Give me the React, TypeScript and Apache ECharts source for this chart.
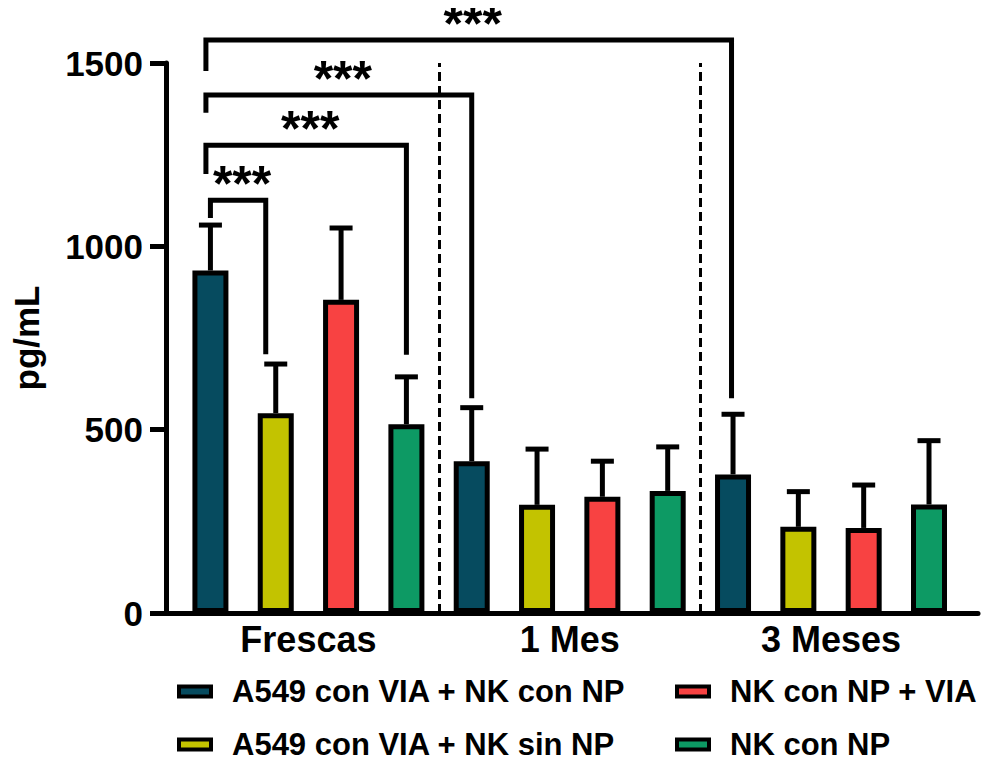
import React, { useEffect, useRef } from "react";
import * as echarts from "echarts";

const groups = ["Frescas", "1 Mes", "3 Meses"];
const seriesNames = [
  "A549 con VIA + NK con NP",
  "A549 con VIA + NK sin NP",
  "NK con NP + VIA",
  "NK con NP",
];
const colors = ["#064b5f", "#c3c300", "#f84242", "#0d9a64"];

// mean values per group (Frescas, 1 Mes, 3 Meses)
const tealMeans = [934, 414, 378];
const yellowMeans = [545, 295, 235];
const redMeans = [854, 317, 232];
const greenMeans = [515, 333, 296];
// upper error (SD) per group
const tealSD = [124, 146, 164];
const yellowSD = [134, 152, 96];
const redSD = [196, 97, 117];
const greenSD = [129, 120, 174];

const yTicks = [0, 500, 1000, 1500];

// significance brackets: bar index from/to (group*4 + series), bracket height, leg ends
const bracketFrom = [0, 0, 0, 0];
const bracketTo = [8, 4, 3, 1];
const bracketHeight = [1563, 1413, 1276, 1126];
const bracketLeftEnd = [1478, 1364, 1197, 1077];
const bracketRightEnd = [586, 586, 704, 706];
const bracketLabel = ["***", "***", "***", "***"];

// pixel offsets of bracket legs (style only)
const legLeftOffset = [-4.5, -4.5, -4.5, 0];
const legRightOffset = [-1.5, 0, 0, -10];

// legend placement (style only): [left, top, fontSize]
const legendPos = [
  [172, 671, 31],
  [172, 724, 31],
  [670, 671, 31],
  [670, 724, 31],
];

const FONT = '"Liberation Sans", Arial, Helvetica, sans-serif';

export default function App() {
  const ref = useRef<HTMLDivElement>(null);
  useEffect(() => {
    if (!ref.current) return;
    const chart = echarts.init(ref.current, undefined, { renderer: "svg" });
    const means = [tealMeans, yellowMeans, redMeans, greenMeans];
    const sds = [tealSD, yellowSD, redSD, greenSD];

    const barSeries: any[] = means.map((m, s) => ({
      name: seriesNames[s],
      type: "bar",
      barWidth: 36,
      barGap: "-100%",
      itemStyle: { color: colors[s], borderColor: "#000", borderWidth: 5 },
      data: m.map((v, g) => [g * 4 + s, v]),
      z: 2,
      ...(s === 0
        ? {
            markLine: {
              silent: true,
              symbol: "none",
              label: { show: false },
              lineStyle: { type: [9, 5], color: "#000", width: 3 },
              data: [{ xAxis: 3.5 }, { xAxis: 7.5 }],
            },
          }
        : {}),
    }));

    const errData: number[][] = [];
    means.forEach((m, s) =>
      m.forEach((v, g) => errData.push([g * 4 + s, v, v + sds[s][g]]))
    );

    const bracketData = bracketFrom.map((f, i) => [
      f,
      bracketTo[i],
      bracketHeight[i],
      bracketLeftEnd[i],
      bracketRightEnd[i],
      i,
    ]);

    const legends = seriesNames.map((n, i) => ({
      data: [n],
      orient: "horizontal",
      left: legendPos[i][0],
      top: legendPos[i][1],
      icon: "rect",
      itemWidth: 32,
      itemHeight: 10,
      itemStyle: { borderColor: "#000", borderWidth: 4 },
      textStyle: {
        color: "#000",
        fontSize: legendPos[i][2],
        fontWeight: "bold",
        fontFamily: FONT,
        padding: [0, 0, 0, 16],
      },
    }));

    const option: any = {
      animation: false,
      backgroundColor: "#fff",
      grid: { left: 166, right: 12, top: 63, bottom: 150 },
      xAxis: {
        type: "value",
        min: -0.68,
        max: 11.75,
        axisLine: { show: true, onZero: false, lineStyle: { color: "#000", width: 5 } },
        axisTick: { show: false },
        splitLine: { show: false },
        axisLabel: {
          customValues: [1.5, 5.5, 9.5],
          formatter: (v: number) => groups[Math.round((v - 1.5) / 4)] ?? "",
          color: "#000",
          fontSize: 36,
          fontWeight: "bold",
          fontFamily: FONT,
          margin: 8,
        },
      },
      yAxis: {
        type: "value",
        min: 0,
        max: 1500,
        interval: 500,
        name: "pg/mL",
        nameLocation: "middle",
        nameGap: 122,
        nameTextStyle: {
          color: "#000",
          fontSize: 35,
          fontWeight: "bold",
          fontFamily: FONT,
        },
        axisLine: { show: true, onZero: false, lineStyle: { color: "#000", width: 5 } },
        axisTick: {
          show: true,
          inside: false,
          length: 16,
          lineStyle: { color: "#000", width: 5 },
        },
        splitLine: { show: false },
        axisLabel: {
          color: "#000",
          fontSize: 35,
          fontWeight: "bold",
          fontFamily: FONT,
          margin: 23,
          formatter: (v: number) => (yTicks.includes(v) ? String(v) : ""),
        },
      },
      legend: legends,
      series: [
        ...barSeries,
        {
          type: "custom",
          name: "err",
          z: 3,
          clip: false,
          data: errData,
          renderItem: (params: any, api: any) => {
            const x = api.value(0);
            const p0 = api.coord([x, api.value(1)]);
            const p1 = api.coord([x, api.value(2)]);
            const st = { stroke: "#000", lineWidth: 5 };
            return {
              type: "group",
              children: [
                { type: "line", shape: { x1: p0[0], y1: p0[1], x2: p1[0], y2: p1[1] }, style: st },
                { type: "line", shape: { x1: p1[0] - 11.5, y1: p1[1], x2: p1[0] + 11.5, y2: p1[1] }, style: st },
              ],
            };
          },
        },
        {
          type: "custom",
          name: "brackets",
          z: 4,
          clip: false,
          data: bracketData,
          renderItem: (params: any, api: any) => {
            const i = api.value(5);
            const xl = api.coord([api.value(0), 0])[0] + legLeftOffset[i];
            const xr = api.coord([api.value(1), 0])[0] + legRightOffset[i];
            const yh = api.coord([0, api.value(2)])[1];
            const yl = api.coord([0, api.value(3)])[1];
            const yr = api.coord([0, api.value(4)])[1];
            return {
              type: "group",
              children: [
                {
                  type: "polyline",
                  shape: { points: [[xl, yl], [xl, yh], [xr, yh], [xr, yr]] },
                  style: { stroke: "#000", lineWidth: 5, fill: "none" },
                },
                {
                  type: "text",
                  x: (xl + xr) / 2 + 4,
                  y: yh - 16,
                  style: {
                    text: bracketLabel[i],
                    fill: "#000",
                    fontSize: 50,
                    lineHeight: 30,
                    fontWeight: "bold",
                    fontFamily: FONT,
                    align: "center",
                    verticalAlign: "middle",
                  },
                },
              ],
            };
          },
        },
      ],
    };
    chart.setOption(option);
    return () => chart.dispose();
  }, []);
  return <div ref={ref} style={{ width: 990, height: 763, margin: -8 }} />;
}
